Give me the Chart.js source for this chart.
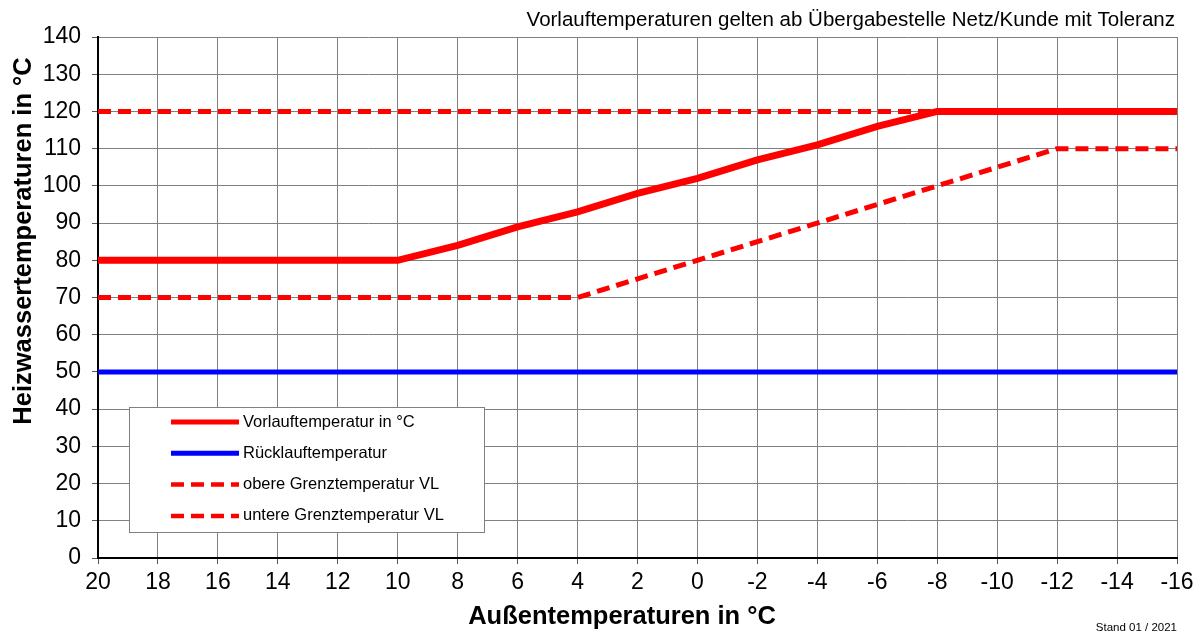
<!DOCTYPE html>
<html>
<head>
<meta charset="utf-8">
<script src="https://cdn.jsdelivr.net/npm/chart.js@4/dist/chart.umd.min.js"></script>
<style>
  html, body { margin: 0; padding: 0; background: #fff; }
  #wrap { width: 1203px; height: 632px; }
</style>
</head>
<body>
<div id="wrap"><canvas id="heizChart" width="1203" height="632"></canvas></div>
<script>
// Außentemperatur (x) in °C
const vorlaufX = [20, 10, 8, 6, 4, 2, 0, -2, -4, -6, -8, -16];
const vorlaufY = [80, 80, 84, 89, 93, 98, 102, 107, 111, 116, 120, 120];

const ruecklaufX = [20, -16];
const ruecklaufY = [50, 50];

const obereX = [20, -16];
const obereY = [120, 120];

const untereX = [20, 4, -12, -16];
const untereY = [70, 70, 110, 110];

const titleText = 'Vorlauftemperaturen gelten ab Übergabestelle Netz/Kunde mit Toleranz';
const standText = 'Stand 01 / 2021';
const xTitle = 'Außentemperaturen in °C';
const yTitle = 'Heizwassertemperaturen in °C';

function toPoints(xs, ys) {
    return xs.map((x, i) => ({ x: x, y: ys[i] }));
}

const FONT = "'Liberation Sans', Arial, sans-serif";

// Legende im Diagramm, Achsentitel und Texte oben/unten
const extraText = {
    id: 'extraText',
    afterDraw(chart) {
        const ctx = chart.ctx;
        const area = chart.chartArea;
        ctx.save();
        ctx.fillStyle = '#000';
        ctx.textBaseline = 'middle';

        ctx.font = '20.5px ' + FONT;
        ctx.textAlign = 'right';
        ctx.fillText(titleText, area.right - 2, 20);

        ctx.font = '11.5px ' + FONT;
        ctx.fillText(standText, area.right, 628);

        ctx.font = 'bold 25.5px ' + FONT;
        ctx.textAlign = 'center';
        ctx.fillText(xTitle, 622, 617);

        ctx.save();
        ctx.translate(24, 241);
        ctx.rotate(-Math.PI / 2);
        ctx.fillText(yTitle, 0, 0);
        ctx.restore();

        // legend box
        const bx = area.left + 31, by = area.top + 370, bw = 355, bh = 125;
        ctx.fillStyle = '#fff';
        ctx.fillRect(bx, by, bw, bh);
        ctx.strokeStyle = '#808080';
        ctx.lineWidth = 1;
        ctx.strokeRect(bx + 0.5, by + 0.5, bw, bh);

        ctx.font = '16.5px ' + FONT;
        ctx.textAlign = 'left';
        chart.data.datasets.forEach((ds, i) => {
            const yy = by + 15 + i * 31.3;
            ctx.beginPath();
            ctx.strokeStyle = ds.borderColor;
            ctx.lineWidth = i < 2 ? 5 : 4.5;
            ctx.lineCap = 'butt';
            ctx.setLineDash(ds.borderDash || []);
            ctx.moveTo(bx + 42, yy);
            ctx.lineTo(bx + 110, yy);
            ctx.stroke();
            ctx.setLineDash([]);
            ctx.fillStyle = '#000';
            ctx.fillText(ds.label, bx + 114, yy);
        });
        ctx.restore();
    }
};

const heizChart = new Chart(document.getElementById('heizChart'), {
    type: 'scatter',
    data: {
        datasets: [{
            label: 'Vorlauftemperatur in °C',
            data: toPoints(vorlaufX, vorlaufY),
            borderColor: '#ff0000',
            borderWidth: 7,
            showLine: true,
            pointRadius: 0
        }, {
            label: 'Rücklauftemperatur',
            data: toPoints(ruecklaufX, ruecklaufY),
            borderColor: '#0000ff',
            borderWidth: 5,
            showLine: true,
            pointRadius: 0
        }, {
            label: 'obere Grenztemperatur VL',
            data: toPoints(obereX, obereY),
            borderColor: '#ff0000',
            borderWidth: 5,
            borderDash: [13, 7],
            showLine: true,
            pointRadius: 0
        }, {
            label: 'untere Grenztemperatur VL',
            data: toPoints(untereX, untereY),
            borderColor: '#ff0000',
            borderWidth: 5,
            borderDash: [13, 7],
            showLine: true,
            pointRadius: 0
        }]
    },
    options: {
        responsive: false,
        animation: false,
        layout: { padding: { top: 37, right: 26, left: 0, bottom: 0 } },
        plugins: {
            legend: { display: false },
            title: { display: false },
            tooltip: { enabled: false }
        },
        scales: {
            x: {
                type: 'linear',
                reverse: true,
                min: -16,
                max: 20,
                ticks: {
                    stepSize: 2,
                    color: '#000',
                    font: { family: FONT, size: 23 },
                    padding: 5,
                    maxRotation: 0
                },
                grid: { color: '#808080', lineWidth: 1, tickLength: 6, tickColor: '#555' },
                border: { color: '#000', width: 2 },
                afterFit(scale) { scale.height = 74; }
            },
            y: {
                min: 0,
                max: 140,
                ticks: {
                    stepSize: 10,
                    color: '#000',
                    font: { family: FONT, size: 23 },
                    padding: 11
                },
                grid: { color: '#808080', lineWidth: 1, tickLength: 6, tickColor: '#555' },
                border: { color: '#000', width: 2 },
                afterFit(scale) { scale.width = 98; }
            }
        }
    },
    plugins: [extraText]
});
</script>
</body>
</html>
